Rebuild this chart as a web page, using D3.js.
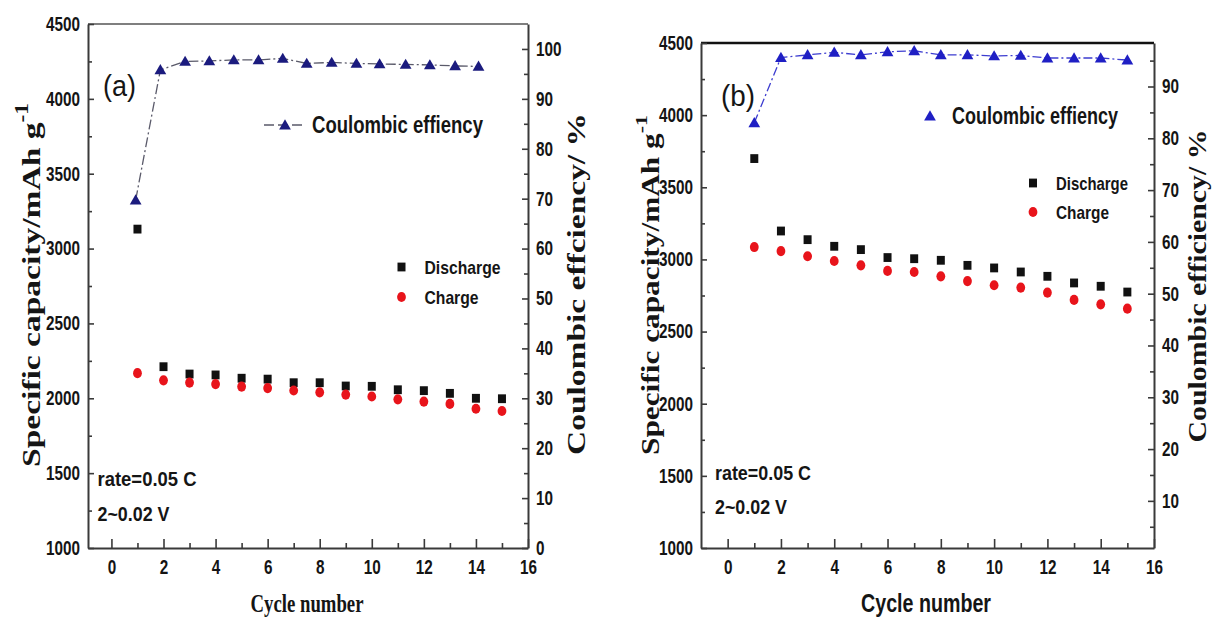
<!DOCTYPE html>
<html><head><meta charset="utf-8">
<script src="https://cdn.jsdelivr.net/npm/d3@7"></script>
<style>
html,body{margin:0;padding:0;background:#fff;}
svg{display:block;}
.tick text{font-family:"Liberation Sans",Arial,sans-serif;font-weight:bold;font-size:20px;fill:#141414;}
</style></head><body>
<svg id="chart" width="1213" height="619"></svg>
<script>
// ---------- data ----------
const cycles = [1,2,3,4,5,6,7,8,9,10,11,12,13,14,15];
// panel (a)
const ceCycleA = [0.93,1.88,2.83,3.76,4.7,5.65,6.58,7.5,8.46,9.41,10.3,11.3,12.23,13.2,14.1];
const ceA = [69.7,95.8,97.5,97.6,97.8,97.8,98.1,97.1,97.3,97.1,97.0,96.9,96.8,96.6,96.5];
const dischargeA = [3130,2211,2162,2156,2134,2128,2104,2104,2082,2080,2057,2051,2033,2000,1997];
const chargeA = [2168,2120,2105,2095,2078,2068,2052,2040,2025,2012,1993,1978,1962,1930,1915];
// panel (b)
const ceCycleB = [1,2,3,4,5,6,7,8,9,10,11,12,13,14,15];
const ceB = [83.0,95.6,96.1,96.6,96.1,96.7,96.9,96.1,96.1,95.9,96.0,95.5,95.5,95.5,95.1];
const dischargeB = [3699,3197,3137,3091,3068,3013,3005,2994,2959,2941,2913,2883,2837,2814,2774];
const chargeB = [3086,3058,3022,2989,2959,2920,2913,2883,2850,2821,2805,2770,2719,2689,2659];
// ticks
const xMajor = [0,2,4,6,8,10,12,14,16];
const xMinor = [1,3,5,7,9,11,13,15];
const capMajor = [1000,1500,2000,2500,3000,3500,4000,4500];
const capMinor = [1250,1750,2250,2750,3250,3750,4250];
const ceMajorA = [0,10,20,30,40,50,60,70,80,90,100];
const ceMinorA = [5,15,25,35,45,55,65,75,85,95];
const ceMajorB = [10,20,30,40,50,60,70,80,90];
const ceMinorB = [5,15,25,35,45,55,65,75,85,95];
// texts
const capTitle = "Specific capacity/mAh g";
const capSup = "-1";
const ceTitleA = "Coulombic effciency/ %";
const ceTitleB = "Coulombic efficiency/ %";
const xTitle = "Cycle number";
const ceLegend = "Coulombic effiency";
const notes = ["rate=0.05 C","2~0.02 V"];

const svg = d3.select("#chart");
const SANS = "'Liberation Sans',Arial,sans-serif";
const SERIF = "'Liberation Serif','Times New Roman',serif";

function fit(t, w){ t.attr("textLength", w).attr("lengthAdjust","spacingAndGlyphs"); return t; }

function panel(c){
  const g = svg.append("g");
  const x = d3.scaleLinear().domain(c.xDom).range([c.left,c.right]);
  const yL = d3.scaleLinear().domain([1000,4500]).range([c.bottom,c.top]);
  const yR = d3.scaleLinear().domain(c.rDom).range([c.bottom,c.top]);

  g.append("line").attr("x1",c.left).attr("x2",c.right).attr("y1",c.top).attr("y2",c.top)
    .attr("stroke",c.topColor).attr("stroke-width",c.topWidth);

  const axStroke = "#3a3a3a";
  function styleAxis(sel){
    sel.selectAll("path.domain").attr("stroke",axStroke).attr("stroke-width",2);
    sel.selectAll(".tick line").attr("stroke",axStroke).attr("stroke-width",1.6);
    sel.selectAll(".tick text").each(function(){
      const s = this.textContent;
      if (s) d3.select(this).attr("textLength", s.length*8.5).attr("lengthAdjust","spacingAndGlyphs");
    });
  }
  g.append("g").attr("transform",`translate(0,${c.bottom})`)
    .call(d3.axisBottom(x).tickValues(xMinor).tickSize(-5).tickFormat("").tickSizeOuter(0))
    .call(styleAxis).select("path.domain").remove();
  g.append("g").attr("transform",`translate(0,${c.bottom})`)
    .call(d3.axisBottom(x).tickValues(xMajor).tickSize(-9).tickPadding(12).tickSizeOuter(0).tickFormat(d3.format("d")))
    .call(styleAxis);
  g.append("g").attr("transform",`translate(${c.left},0)`)
    .call(d3.axisLeft(yL).tickValues(capMinor).tickSize(-4).tickFormat("").tickSizeOuter(0))
    .call(styleAxis).select("path.domain").remove();
  g.append("g").attr("transform",`translate(${c.left},0)`)
    .call(d3.axisLeft(yL).tickValues(capMajor).tickSize(-6).tickPadding(8).tickSizeOuter(0).tickFormat(d3.format("d")))
    .call(styleAxis);
  g.append("g").attr("transform",`translate(${c.right},0)`)
    .call(d3.axisRight(yR).tickValues(c.rMinor).tickSize(-4).tickFormat("").tickSizeOuter(0))
    .call(styleAxis).select("path.domain").remove();
  g.append("g").attr("transform",`translate(${c.right},0)`)
    .call(d3.axisRight(yR).tickValues(c.rMajor).tickSize(-6).tickPadding(8).tickSizeOuter(0).tickFormat(d3.format("d")))
    .call(styleAxis);

  // CE line + triangles
  const pts = c.ceX.map((v,i)=>[v,c.ce[i]]);
  g.append("path").datum(pts)
    .attr("d", d3.line().x(d=>x(d[0])).y(d=>yR(d[1])))
    .attr("fill","none").attr("stroke",c.lineColor).attr("stroke-width",1.3)
    .attr("stroke-dasharray",c.dash);
  const tri = d3.symbol().type(d3.symbolTriangle).size(60);
  g.selectAll(".tri").data(pts).join("path")
    .attr("transform",d=>`translate(${x(d[0])},${yR(d[1])+1})`)
    .attr("d",tri).attr("fill",c.triColor);

  g.selectAll(".sq").data(cycles).join("rect")
    .attr("x",(d)=>x(d)-4).attr("y",(d,i)=>yL(c.dis[i])-4.4)
    .attr("width",8).attr("height",8.8).attr("fill","#111");
  g.selectAll(".ci").data(cycles).join("ellipse")
    .attr("cx",d=>x(d)).attr("cy",(d,i)=>yL(c.chg[i]))
    .attr("rx",4.4).attr("ry",5.1).attr("fill","#e8141b");

  // legend
  const L = c.leg;
  if (c.legLine){
    g.append("line").attr("x1",L.lineX1).attr("x2",L.lineX2).attr("y1",L.ceY).attr("y2",L.ceY)
      .attr("stroke",c.lineColor).attr("stroke-width",1.6).attr("stroke-dasharray","10,4");
  }
  g.append("path").attr("transform",`translate(${L.triX},${L.ceY+1})`).attr("d",tri).attr("fill",c.triColor);
  fit(g.append("text").attr("x",L.ceTx).attr("y",L.ceY).attr("dominant-baseline","central")
    .attr("font-family",SANS).attr("font-weight","bold").attr("font-size",23)
    .attr("fill","#151515").text(ceLegend), L.ceW);
  g.append("rect").attr("x",L.symX-4).attr("y",L.disY-4.4).attr("width",8).attr("height",8.8).attr("fill","#111");
  g.append("ellipse").attr("cx",L.symX).attr("cy",L.chgY).attr("rx",4.4).attr("ry",5.1).attr("fill","#e8141b");
  fit(g.append("text").attr("x",L.tx).attr("y",L.disY).attr("dominant-baseline","central")
    .attr("font-family",SANS).attr("font-weight","bold").attr("font-size",19)
    .attr("fill","#151515").text("Discharge"), L.disW);
  fit(g.append("text").attr("x",L.tx).attr("y",L.chgY).attr("dominant-baseline","central")
    .attr("font-family",SANS).attr("font-weight","bold").attr("font-size",19)
    .attr("fill","#151515").text("Charge"), L.chgW);

  fit(g.append("text").attr("x",c.lab.x).attr("y",c.lab.y).attr("dominant-baseline","central")
    .attr("font-family",SANS).attr("font-size",29)
    .attr("fill","#151515").text(c.lab.t), c.lab.w);
  notes.forEach((n,i)=>{
    fit(g.append("text").attr("x",c.note.x).attr("y",c.note.y[i]).attr("dominant-baseline","central")
      .attr("font-family",SANS).attr("font-weight","bold").attr("font-size",20)
      .attr("fill","#151515").text(n), c.note.w[i]);
  });

  // axis titles
  const lt = g.append("text").attr("transform",`translate(${c.lt.x},${c.lt.y}) rotate(-90)`)
    .attr("text-anchor","middle").attr("dominant-baseline","central")
    .attr("font-family",SERIF).attr("font-weight","bold")
    .attr("font-size",c.lt.fs).attr("fill","#151515");
  lt.append("tspan").text(capTitle);
  lt.append("tspan").attr("dy",-9).attr("font-size",c.lt.fs*0.7).text(capSup);
  fit(lt, c.lt.w);

  fit(g.append("text").attr("transform",`translate(${c.rt.x},${c.rt.y}) rotate(-90)`)
    .attr("text-anchor","middle").attr("dominant-baseline","central")
    .attr("font-family",SERIF).attr("font-weight","bold")
    .attr("font-size",c.rt.fs).attr("fill","#151515").text(c.rt.t), c.rt.w);

  fit(g.append("text").attr("x",c.xt.x).attr("y",c.xt.y).attr("text-anchor","middle").attr("dominant-baseline","central")
    .attr("font-family",c.xt.font).attr("font-weight",c.xt.weight)
    .attr("font-size",c.xt.fs).attr("fill","#151515").text(xTitle), c.xt.w);
}

panel({
  left:88,right:528,top:24,bottom:548,xDom:[-0.9,16],rDom:[0,105],
  rMajor:ceMajorA,rMinor:ceMinorA,topColor:"#555",topWidth:1.5,
  ceX:ceCycleA,ce:ceA,dis:dischargeA,chg:chargeA,
  lineColor:"#5a5a6a",dash:"10,3,2,3",triColor:"#1b1b7e",
  legLine:true,
  leg:{lineX1:264,lineX2:306,triX:285,ceY:125,ceTx:312,ceW:171,symX:401.5,disY:267,chgY:297,tx:424.5,disW:76,chgW:54},
  lab:{x:103,y:86,t:"(a)",w:33},
  note:{x:97.5,y:[479,514],w:[99,72]},
  lt:{x:31,y:285,fs:26,w:364},
  rt:{x:576,y:284,fs:26,w:342,t:ceTitleA},
  xt:{x:307,y:603,fs:26,w:113,font:SERIF,weight:"bold"}
});
panel({
  left:701,right:1154,top:43,bottom:548,xDom:[-1,16],rDom:[0.9,98.4],
  rMajor:ceMajorB,rMinor:ceMinorB,topColor:"#111",topWidth:2.5,
  ceX:ceCycleB,ce:ceB,dis:dischargeB,chg:chargeB,
  lineColor:"#3d3dd0",dash:"9,3,2,3",triColor:"#1f1fc4",
  legLine:false,
  leg:{triX:930,ceY:116,ceTx:952,ceW:166,symX:1033,disY:183,chgY:212,tx:1056,disW:72,chgW:53},
  lab:{x:721,y:96,t:"(b)",w:34},
  note:{x:715,y:[473,507],w:[96,72]},
  lt:{x:650,y:285,fs:25,w:340},
  rt:{x:1197,y:286,fs:25,w:313,t:ceTitleB},
  xt:{x:926,y:603,fs:25,w:130,font:SANS,weight:"bold"}
});
</script>
</body></html>
